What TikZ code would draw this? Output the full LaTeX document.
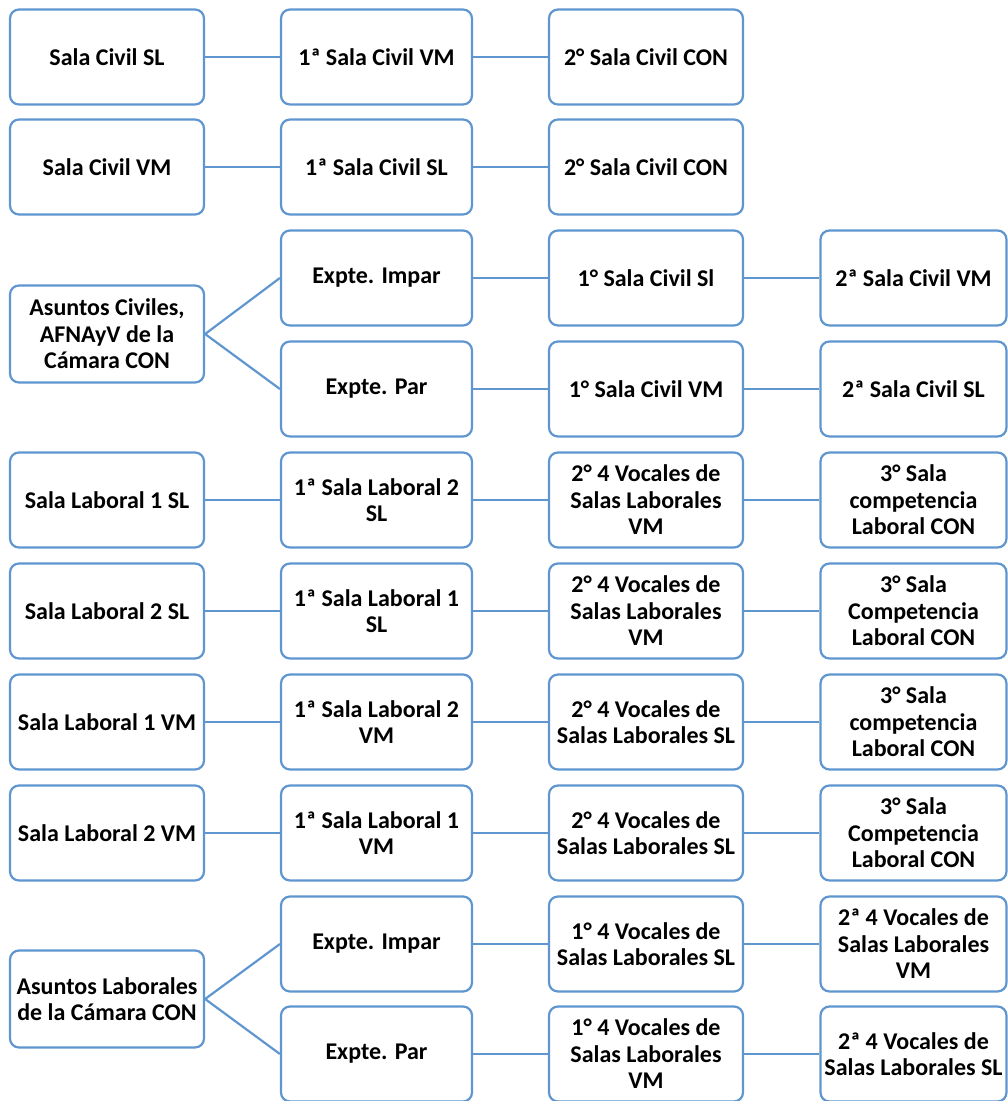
\documentclass[tikz,border=0pt]{standalone}
\usepackage{fontspec}
\setmainfont{Carlito}
\definecolor{boxblue}{RGB}{95,150,208}
\begin{document}
\begin{tikzpicture}[x=1pt,y=-1pt,inner sep=0,
	box/.style={draw=boxblue,line width=2.2pt,rounded corners=9pt,fill=white,
		minimum width=194pt,minimum height=95pt,align=center,
		font=\bfseries\fontsize{24}{26.5}\selectfont},
	lastbox/.style={box,minimum width=186pt},
	link/.style={draw=boxblue,line width=2.2pt}]
		\useasboundingbox (0,0) rectangle (1008,1101);
		% civil
		\node[box] (civSL) at (107,57) {Sala Civil SL};
		\node[box,minimum width=191pt] (civSLa) at (376.5,57) {1ª Sala Civil VM};
		\node[box] (civSLb) at (646,57) {2° Sala Civil CON};
		\node[box] (civVM) at (107,167) {Sala Civil VM};
		\node[box,minimum width=191pt] (civVMa) at (376.5,167) {1ª Sala Civil SL};
		\node[box] (civVMb) at (646,167) {2° Sala Civil CON};
		\draw[link] (civSL)--(civSLa);
		\draw[link] (civSLa)--(civSLb);
		\draw[link] (civVM)--(civVMa);
		\draw[link] (civVMa)--(civVMb);
		% camara civil
		\node[box,minimum height=97pt] (asCiv) at (107,334) {Asuntos Civiles,\\AFNAyV de la\\Cámara CON};
		\node[box,minimum width=191pt] (civImp) at (376.5,278) {Expte. Impar};
		\node[box] (civImpa) at (646,278) {1° Sala Civil Sl};
		\node[lastbox] (civImpb) at (913.5,278) {2ª Sala Civil VM};
		\node[box,minimum width=191pt] (civPar) at (376.5,389) {Expte. Par};
		\node[box] (civPara) at (646,389) {1° Sala Civil VM};
		\node[lastbox] (civParb) at (913.5,389) {2ª Sala Civil SL};
		\draw[link] (asCiv.east)--(civImp.west);
		\draw[link] (asCiv.east)--(civPar.west);
		\draw[link] (civImp)--(civImpa);
		\draw[link] (civImpa)--(civImpb);
		\draw[link] (civPar)--(civPara);
		\draw[link] (civPara)--(civParb);
		% laboral
		\node[box] (labA) at (107,500) {Sala Laboral 1 SL};
		\node[box,minimum width=191pt] (labAa) at (376.5,500) {1ª Sala Laboral 2\\SL};
		\node[box] (labAb) at (646,500) {2° 4 Vocales de\\Salas Laborales\\VM};
		\node[lastbox] (labAc) at (913.5,500) {3° Sala\\competencia\\Laboral CON};
		\node[box] (labB) at (107,611) {Sala Laboral 2 SL};
		\node[box,minimum width=191pt] (labBa) at (376.5,611) {1ª Sala Laboral 1\\SL};
		\node[box] (labBb) at (646,611) {2° 4 Vocales de\\Salas Laborales\\VM};
		\node[lastbox] (labBc) at (913.5,611) {3° Sala\\Competencia\\Laboral CON};
		\node[box] (labC) at (107,722) {Sala Laboral 1 VM};
		\node[box,minimum width=191pt] (labCa) at (376.5,722) {1ª Sala Laboral 2\\VM};
		\node[box] (labCb) at (646,722) {2° 4 Vocales de\\Salas Laborales SL};
		\node[lastbox] (labCc) at (913.5,722) {3° Sala\\competencia\\Laboral CON};
		\node[box] (labD) at (107,833) {Sala Laboral 2 VM};
		\node[box,minimum width=191pt] (labDa) at (376.5,833) {1ª Sala Laboral 1\\VM};
		\node[box] (labDb) at (646,833) {2° 4 Vocales de\\Salas Laborales SL};
		\node[lastbox] (labDc) at (913.5,833) {3° Sala\\Competencia\\Laboral CON};
		\foreach \r in {labA,labB,labC,labD}{
			\draw[link] (\r)--(\r a);
			\draw[link] (\r a)--(\r b);
			\draw[link] (\r b)--(\r c);
		}
		% camara laboral
		\node[box,minimum height=97pt] (asLab) at (107,999) {Asuntos Laborales\\de la Cámara CON};
		\node[box,minimum width=191pt] (labImp) at (376.5,944) {Expte. Impar};
		\node[box] (labImpa) at (646,944) {1° 4 Vocales de\\Salas Laborales SL};
		\node[lastbox] (labImpb) at (913.5,944) {2ª 4 Vocales de\\Salas Laborales\\VM};
		\node[box,minimum width=191pt] (labPar) at (376.5,1054) {Expte. Par};
		\node[box] (labPara) at (646,1054) {1° 4 Vocales de\\Salas Laborales\\VM};
		\node[lastbox] (labParb) at (913.5,1054) {2ª 4 Vocales de\\Salas Laborales SL};
		\draw[link] (asLab.east)--(labImp.west);
		\draw[link] (asLab.east)--(labPar.west);
		\draw[link] (labImp)--(labImpa);
		\draw[link] (labImpa)--(labImpb);
		\draw[link] (labPar)--(labPara);
		\draw[link] (labPara)--(labParb);
	\end{tikzpicture}
\end{document}
